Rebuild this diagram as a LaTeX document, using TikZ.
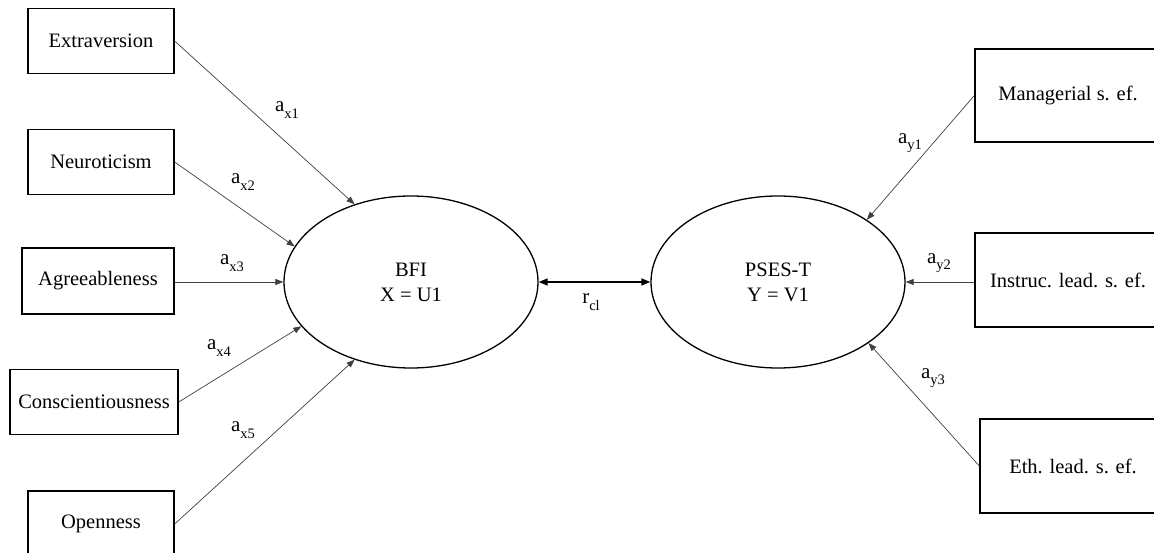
\documentclass[tikz,border=0pt]{standalone}
\usepackage{fontspec}
\setmainfont{Liberation Serif}
\usetikzlibrary{shapes.geometric,arrows.meta}
\newcommand{\sbs}[1]{\raisebox{-0.3em}{\fontsize{14.5}{15}\selectfont #1}}
\tikzset{
  obsbox/.style={draw, line width=1.3pt, rectangle, inner sep=0pt, font=\fontsize{20.5}{24}\selectfont},
  latent/.style={draw, line width=1.3pt, ellipse, inner sep=0pt, minimum width=254pt, minimum height=172pt, align=center, font=\fontsize{20.5}{25}\selectfont},
  path/.style={line width=0.7pt, draw=black!75, -{Triangle[length=8pt,width=6pt]}},
  corr/.style={line width=1.6pt, {Triangle[length=9pt,width=7pt]}-{Triangle[length=9pt,width=7pt]}},
  lbl/.style={inner sep=0pt, font=\fontsize{21}{24}\selectfont}
}
\begin{document}
\begin{tikzpicture}[x=1pt,y=-1pt]
\useasboundingbox (0,0) rectangle (1154,553);
\begin{scope}
\clip (0,0) rectangle (1154,553);
% left observed variables
\node[obsbox, minimum width=146pt, minimum height=65pt] (ext) at (101,41) {Extraversion};
\node[obsbox, minimum width=146pt, minimum height=65pt] (neu) at (101,162) {Neuroticism};
\node[obsbox, minimum width=152pt, minimum height=66pt] (agr) at (98,281) {Agreeableness};
\node[obsbox, minimum width=168pt, minimum height=65pt] (con) at (94,402) {Conscientiousness};
\node[obsbox, minimum width=146pt, minimum height=66pt] (ope) at (101,524) {Openness};
% right observed variables
\node[obsbox, minimum width=186pt, minimum height=93pt] (man) at (1068,95.5) {Managerial s. ef.};
\node[obsbox, minimum width=186pt, minimum height=94pt] (ins) at (1068,280) {Instruc. lead. s. ef.};
\node[obsbox, minimum width=186pt, minimum height=94pt] (eth) at (1073,466) {Eth. lead. s. ef.};
% latent variables
\node[latent] (bfi) at (411,282) {BFI\\X = U1};
\node[latent] (pses) at (778,282) {PSES-T\\Y = V1};
% paths
\draw[path] (ext.east) -- (bfi.126);
\draw[path] (neu.east) -- (bfi.163);
\draw[path] (agr.east |- bfi.west) -- (bfi.west);
\draw[path] (con.east) -- (bfi.202);
\draw[path] (ope.east) -- (bfi.234);
\draw[path] (man.west) -- (pses.35);
\draw[path] (ins.west |- pses.east) -- (pses.east);
\draw[path] (eth.west) -- (pses.326);
\draw[corr] (bfi.east) -- (pses.west);
% labels
\node[lbl] (l1) at (287,110) {a\sbs{x1}};
\node[lbl] (l2) at (243,182) {a\sbs{x2}};
\node[lbl] (l3) at (232,263) {a\sbs{x3}};
\node[lbl] (l4) at (219,348) {a\sbs{x4}};
\node[lbl] (l5) at (243,430) {a\sbs{x5}};
\node[lbl] (m1) at (910,143) {a\sbs{y1}};
\node[lbl] (m2) at (939,263) {a\sbs{y2}};
\node[lbl] (m3) at (933,378) {a\sbs{y3}};
\node[lbl] (rc) at (591,302) {r\sbs{cl}};
\end{scope}
\end{tikzpicture}
\end{document}
